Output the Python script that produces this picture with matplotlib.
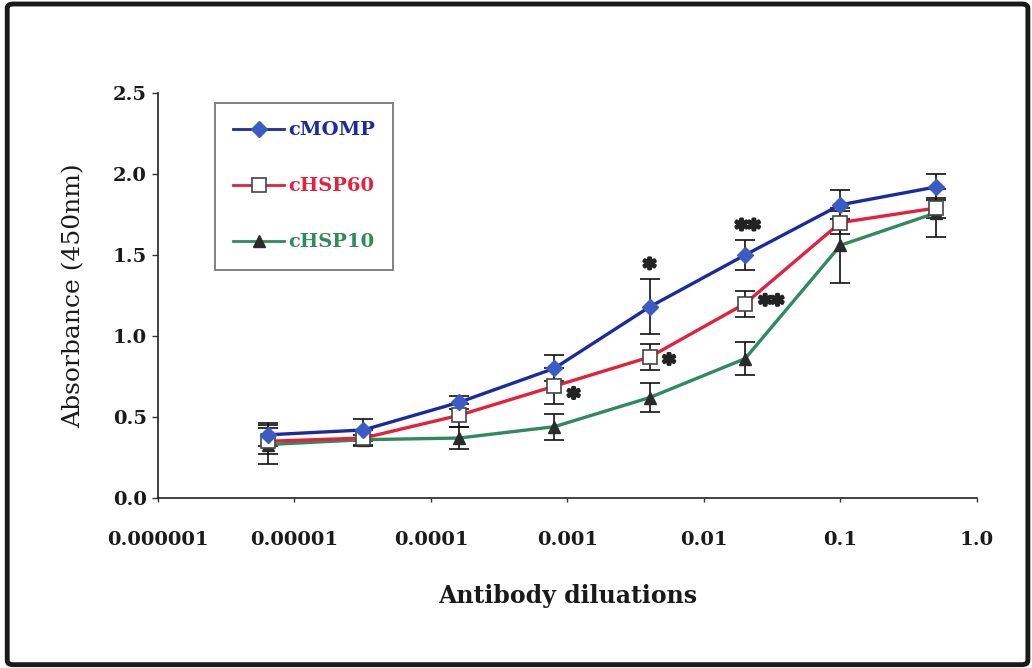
import matplotlib
matplotlib.use("Agg")
import matplotlib.pyplot as plt
import matplotlib.patheffects as pe
from matplotlib.patches import FancyBboxPatch
from matplotlib.lines import Line2D

# Five-fold antibody dilution series
dilutions = [0.0000064, 0.000032, 0.00016, 0.0008, 0.004, 0.02, 0.1, 0.5]

momp = [0.39, 0.42, 0.59, 0.80, 1.18, 1.50, 1.81, 1.92]
momp_err = [0.07, 0.07, 0.04, 0.08, 0.17, 0.09, 0.09, 0.08]

hsp60 = [0.35, 0.37, 0.51, 0.69, 0.87, 1.20, 1.70, 1.79]
hsp60_err = [0.08, 0.05, 0.07, 0.11, 0.08, 0.08, 0.07, 0.06]

hsp10 = [0.33, 0.36, 0.37, 0.44, 0.62, 0.86, 1.56, 1.76]
hsp10_err = [0.12, 0.03, 0.07, 0.08, 0.09, 0.10, 0.23, 0.15]

x_ticks = [1e-6, 1e-5, 1e-4, 1e-3, 1e-2, 1e-1, 1.0]
x_tick_labels = ["0.000001", "0.00001", "0.0001", "0.001", "0.01", "0.1", "1.0"]
y_ticks = [0.0, 0.5, 1.0, 1.5, 2.0, 2.5]
y_tick_labels = ["0.0", "0.5", "1.0", "1.5", "2.0", "2.5"]

# Significance marks: (dilution index, y value, text, horizontal offset in pt)
sig_marks = [
    (4, 1.46, "*", 0),
    (5, 1.70, "**", 2),
    (3, 0.66, "*", 14),
    (4, 0.87, "*", 14),
    (5, 1.235, "**", 19),
]

serif = "DejaVu Serif"
plt.rcParams["font.family"] = [serif, "DejaVu Sans"]

fig = plt.figure(figsize=(10.32, 6.68), dpi=100)
ax = fig.add_axes([0.1531, 0.2545, 0.7936, 0.6063])

blue = "#1c2aa0"
red = "#e3213c"
green = "#2f8a5c"

ekw = dict(ecolor="#111111", elinewidth=1.2, capsize=7, capthick=1.2, zorder=2)

ax.errorbar(dilutions, hsp10, yerr=hsp10_err, color=green, lw=2.4,
            marker="^", ms=9, mfc="#2b2b2b", mec="#2b2b2b", **ekw)
ax.errorbar(dilutions, hsp60, yerr=hsp60_err, color=red, lw=2.4,
            marker="s", ms=10, mfc="white", mec="#444444", mew=1.2, **ekw)
ax.errorbar(dilutions, momp, yerr=momp_err, color=blue, lw=2.4,
            marker="D", ms=8, mfc="#3b5cc4", mec="#3b5cc4", **ekw)

for i, yv, txt, dx in sig_marks:
    ax.annotate(txt, (dilutions[i], yv), xytext=(dx, -5),
                textcoords="offset points", ha="center", va="center",
                fontsize=17, fontweight="bold", color="#222222",
                family="DejaVu Sans",
                path_effects=[pe.withStroke(linewidth=2.2,
                                            foreground="#222222")])

ax.set_xscale("log")
ax.set_xlim(1e-6, 1.0)
ax.set_ylim(0.0, 2.5)
ax.set_xticks(x_ticks)
ax.set_xticklabels(x_tick_labels)
ax.minorticks_off()
ax.set_yticks(y_ticks)
ax.set_yticklabels(y_tick_labels)

for lab in ax.get_xticklabels() + ax.get_yticklabels():
    lab.set_fontweight("bold")
    lab.set_fontsize(14)
    lab.set_color("#1a1a1a")

ax.tick_params(axis="x", direction="out", length=3, width=1, pad=21,
               color="#333333")
ax.tick_params(axis="y", direction="out", length=4, width=1, pad=4,
               color="#333333")

for s in ("top", "right"):
    ax.spines[s].set_visible(False)
for s in ("left", "bottom"):
    ax.spines[s].set_color("#222222")
    ax.spines[s].set_linewidth(1.2)

ax.set_xlabel("Antibody diluations", fontsize=17, fontweight="bold",
              color="#1a1a1a", labelpad=25)
ax.set_ylabel("Absorbance (450nm)", fontsize=18, color="#1a1a1a",
              labelpad=20)

handles = [
    Line2D([], [], color=blue, lw=2, marker="D", ms=8, mfc="#3b5cc4",
           mec="#3b5cc4"),
    Line2D([], [], color=red, lw=2, marker="s", ms=10, mfc="white",
           mec="#444444", mew=1.2),
    Line2D([], [], color=green, lw=2, marker="^", ms=9, mfc="#2b2b2b",
           mec="#2b2b2b"),
]
labels = ["cMOMP", "cHSP60", "cHSP10"]
leg = ax.legend(handles, labels, loc="upper left",
                bbox_to_anchor=(0.2083, 0.8458),
                bbox_transform=fig.transFigure, borderaxespad=0,
                frameon=True, fancybox=False, edgecolor="#555555",
                handlelength=2.6, labelspacing=1.95, borderpad=0.95,
                handletextpad=0.2,
                prop={"family": serif, "weight": "bold", "size": 14})
leg.get_frame().set_linewidth(1.3)
for txt, col in zip(leg.get_texts(), [blue, red, green]):
    txt.set_color(col)

# Dark frame around the whole picture
fig.patches.append(FancyBboxPatch((0.007, 0.005), 0.989, 0.989,
                                  boxstyle="round,pad=0,rounding_size=0.006",
                                  transform=fig.transFigure, fill=False,
                                  edgecolor="#1a1a1a", linewidth=3.5))

fig.savefig("out.png", dpi=100)
